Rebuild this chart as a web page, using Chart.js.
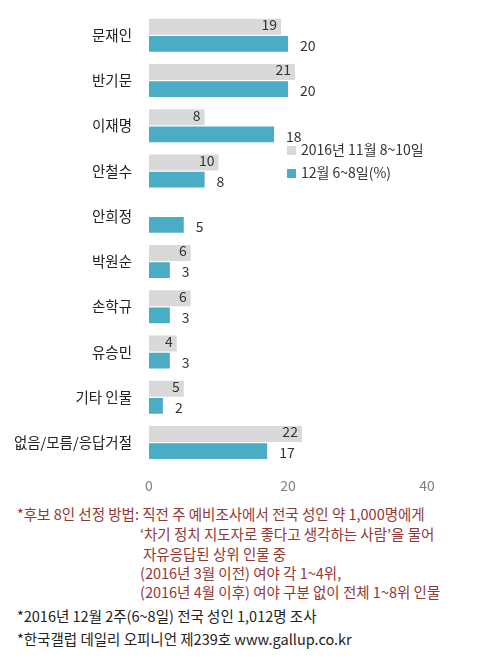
<!DOCTYPE html>
<html><head><meta charset="utf-8">
<script src="https://cdn.jsdelivr.net/npm/chart.js@4"></script>
<style>
body{margin:0;width:504px;height:670px;background:#fff;font-family:"Noto Sans CJK KR","Noto Sans",sans-serif;position:relative;overflow:hidden}
#wrap{position:absolute;left:0;top:-5px;width:504px;height:503px}
.t{position:absolute;font-size:14.5px;white-space:nowrap;line-height:19px}
.r{color:#943634}
.k{color:#222}
.lg{position:absolute;font-size:14px;color:#333;white-space:nowrap}
.sw{display:inline-block;width:9px;height:9px;margin-right:5px;vertical-align:0px}
</style></head><body>
<div id="wrap"><canvas id="c"></canvas></div>
<div class="lg" style="left:287px;top:139px"><span class="sw" style="background:#d9d9d9"></span>2016년 11월 8~10일</div>
<div class="lg" style="left:287px;top:162px"><span class="sw" style="background:#4bacc6"></span>12월 6~8일(%)</div>
<div class="t r" style="left:17px;top:504px">*후보 8인 선정 방법: 직전 주 예비조사에서 전국 성인 약 1,000명에게</div>
<div class="t r" style="left:140px;top:524px">‘차기 정치 지도자로 좋다고 생각하는 사람’을 물어</div>
<div class="t r" style="left:143px;top:544px">자유응답된 상위 인물 중</div>
<div class="t r" style="left:140px;top:563px">(2016년 3월 이전) 여야 각 1~4위,</div>
<div class="t r" style="left:140px;top:582px">(2016년 4월 이후) 여야 구분 없이 전체 1~8위 인물</div>
<div class="t k" style="left:17px;top:606px">*2016년 12월 2주(6~8일) 전국 성인 1,012명 조사</div>
<div class="t k" style="left:17px;top:629px">*한국갤럽 데일리 오피니언 제239호 www.gallup.co.kr</div>
<script>
const categories=["문재인","반기문","이재명","안철수","안희정","박원순","손학규","유승민","기타 인물","없음/모름/응답거절"];
const nov=[19,21,8,10,null,6,6,4,5,22];
const dec=[20,20,18,8,5,3,3,3,2,17];
const seriesNames=["2016년 11월 8~10일","12월 6~8일(%)"];
const xTicks=[0,20,40];
const labelPlugin={id:'lbl',afterDatasetsDraw(ch){
 const ctx=ch.ctx;ctx.save();ctx.font='14px "Noto Sans CJK KR"';ctx.fillStyle='#333';ctx.textBaseline='middle';
 ch.data.datasets.forEach((ds,di)=>{ch.getDatasetMeta(di).data.forEach((b,i)=>{
  const v=ds.data[i];if(v==null)return;
  if(di===0){ctx.textAlign='right';ctx.fillText(v,b.x-4,b.y-2);}
  else{ctx.textAlign='left';ctx.fillText(v,b.x+12,b.y+2);}
 });});ctx.restore();}};
new Chart(document.getElementById('c'),{type:'bar',
 data:{labels:categories,datasets:[
  {label:seriesNames[0],data:nov,backgroundColor:'#d9d9d9',categoryPercentage:0.76,barPercentage:0.92},
  {label:seriesNames[1],data:dec,backgroundColor:'#4bacc6',categoryPercentage:0.76,barPercentage:0.92}]},
 options:{indexAxis:'y',responsive:true,maintainAspectRatio:false,animation:false,
  layout:{padding:{left:0,right:77,top:0,bottom:0}},
  plugins:{legend:{display:false},tooltip:{enabled:false}},
  scales:{
   x:{min:0,max:40,afterBuildTicks(a){a.ticks=xTicks.map(v=>({value:v}));},
      grid:{display:false},border:{display:false},
      ticks:{color:'#7f7f7f',font:{size:14,family:'Noto Sans CJK KR'},padding:4}},
   y:{afterFit(a){a.width=149;},grid:{display:false},border:{display:false},
      ticks:{color:'#222',font:{size:14.5,family:'Noto Sans CJK KR'},padding:9}}
  }},plugins:[labelPlugin]});
</script></body></html>
